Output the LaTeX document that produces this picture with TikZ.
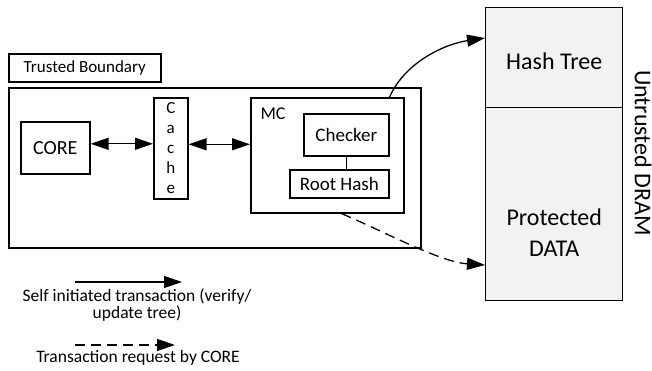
\documentclass[tikz,border=0pt]{standalone}
\usepackage{fontspec}
\setmainfont{Carlito}
\usetikzlibrary{arrows.meta}
\begin{document}
\begin{tikzpicture}[x=1pt,y=-1pt,
  box/.style={draw, line width=1.6pt, inner sep=0pt, anchor=north west},
  mem/.style={draw, line width=1.4pt, fill=black!5, inner sep=0pt, anchor=north west},
  conn/.style={line width=1.3pt},
  tip/.style={-{Triangle[length=18pt,width=12pt]}},
  dtip/.style={{Triangle[length=18pt,width=12pt]}-{Triangle[length=18pt,width=12pt]}},
  dashedline/.style={dash pattern=on 10pt off 6pt},
  fs/.style={font=\fontsize{#1}{#1}\selectfont}
]
\useasboundingbox (0,0) rectangle (652,371);

% trusted boundary
\node[box, minimum width=152pt, minimum height=28pt, fs=17] (tblabel) at (8,53) {};
\node[fs=17] (tbtext) at (tblabel.center) {Trusted Boundary};
\node[box, line width=1.8pt, minimum width=412pt, minimum height=160pt] (tb) at (8,87) {};

% components
\node[box, minimum width=69pt, minimum height=52pt] (core) at (20,121) {};
\node[fs=20] (coretxt) at (core.center) {CORE};
\node[box, minimum width=34pt, minimum height=101pt] (cache) at (153,97) {};
\node[fs=17, align=center, font=\fontsize{17}{20}\selectfont] (cachetxt) at (cache.center) {C\\a\\c\\h\\e};
\node[box, minimum width=153pt, minimum height=115pt] (mc) at (250,97) {};
\node[fs=18, anchor=north west] (mctxt) at (257,104) {MC};
\node[box, minimum width=85pt, minimum height=42pt] (checker) at (303,113) {};
\node[fs=19] (checkertxt) at (checker.center) {Checker};
\node[box, minimum width=99pt, minimum height=28pt] (roothash) at (289,169) {};
\node[fs=19] (roothashtxt) at (roothash.center) {Root Hash};

\draw[conn, line width=1.6pt] (checker.south) -- (checker.south |- roothash.north);
\draw[conn, dtip] ([yshift=4pt]core.east) -- ([yshift=4pt]core.east -| cache.west);
\draw[conn, dtip] ([yshift=4pt]cache.east) -- ([yshift=4pt]cache.east -| mc.west);

% DRAM
\node[mem, minimum width=137pt, minimum height=100pt] (hashtree) at (485,7) {};
\node[fs=24] (hashtreetxt) at ([yshift=-4pt]hashtree.center) {Hash Tree};
\node[mem, minimum width=137pt, minimum height=193pt] (protected) at (485,107) {};
\node[fs=24, align=center, font=\fontsize{24}{31}\selectfont] (protectedtxt) at ([yshift=-28pt]protected.center) {Protected\\DATA};
\node[fs=24, rotate=-90] (untrusted) at (643,153) {Untrusted DRAM};

% transactions
\draw[conn, tip] ([xshift=-15pt]mc.north east) .. controls (405,62) and (445,44) .. (hashtree.west |- 0,38);
\draw[conn, tip, dashedline] ([xshift=-63pt]mc.south east) .. controls (385,232) and (440,262) .. (protected.west |- 0,265);

% legend
\coordinate (l1a) at (75,282);
\coordinate (l1b) at (182,282);
\draw[conn, tip] (l1a) -- (l1b);
\node[align=center, font=\fontsize{17.5}{15.5}\selectfont] (l1txt) at (137,305) {Self initiated transaction (verify/\\update tree)};
\coordinate (l2a) at (75,345);
\coordinate (l2b) at (175,345);
\draw[conn, tip, dashedline] (l2a) -- (l2b);
\node[fs=17.5] (l2txt) at (138,358) {Transaction request by CORE};
\end{tikzpicture}
\end{document}
